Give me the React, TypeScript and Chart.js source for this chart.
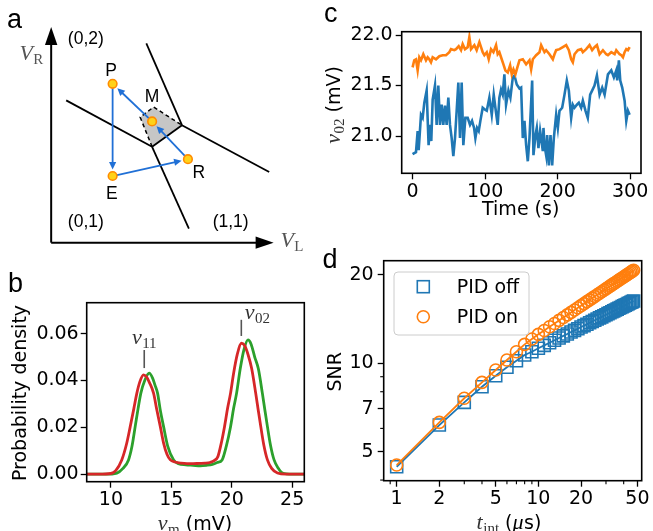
import React, { useEffect, useRef } from 'react';
import { Chart, registerables } from 'chart.js';

Chart.register(...registerables);

const SANS = '"DejaVu Sans", "Noto Sans", sans-serif';
const SERIF = '"Liberation Serif", "DejaVu Serif", serif';
const HELV = '"Liberation Sans", Arial, sans-serif';

// ---------------- panel a : charge-stability diagram (units of V_L, V_R) ----------------
const stateNames = ['P', 'M', 'R', 'E'];
const stateVL = [3.19, 5.24, 7.1, 3.19];
const stateVR = [8.32, 6.35, 4.37, 3.49];
const arrowFrom = ['P', 'E', 'R', 'M'];
const arrowTo = ['E', 'R', 'M', 'P'];
const boundaryVL = [
  [0.78, 5.24],
  [5.24, 7.15],
  [4.94, 6.79],
  [6.79, 11.32],
  [5.24, 6.79],
];
const boundaryVR = [
  [7.45, 5.02],
  [5.02, 0.73],
  [10.44, 6.15],
  [6.15, 3.7],
  [5.02, 6.15],
];
const cellVL = [5.24, 4.62, 5.32, 6.79];
const cellVR = [5.02, 6.57, 7.1, 6.15];
const regionLabels = ['(0,2)', '(0,1)', '(1,1)'];
const regionVL = [1.8, 1.8, 9.32];
const regionVR = [10.4, 0.82, 0.82];
const axisVLmax = 11.55;
const axisVRmax = 11.3;

// ---------------- panel b : histograms ----------------
const redVm = [8.0, 9.0, 10.0, 10.4, 10.9, 11.3, 11.6, 11.9, 12.15, 12.4, 12.7, 12.95, 13.2, 13.53, 13.8, 14.09, 14.35, 14.64, 14.92, 15.3, 15.8, 16.3, 16.8, 17.3, 17.8, 18.2, 18.55, 18.85, 19.1, 19.4, 19.65, 19.9, 20.15, 20.45, 20.79, 21.05, 21.35, 21.65, 21.98, 22.2, 22.4, 22.65, 22.95, 23.3, 23.78, 24.5, 26.0];
const redDensity = [0, 0, 0.0003, 0.0015, 0.0061, 0.013, 0.0203, 0.028, 0.0346, 0.0395, 0.0424, 0.0415, 0.039, 0.0346, 0.0275, 0.0203, 0.0135, 0.0085, 0.0061, 0.0052, 0.0047, 0.0045, 0.0045, 0.0046, 0.0047, 0.005, 0.0058, 0.0075, 0.0125, 0.0203, 0.028, 0.0346, 0.043, 0.051, 0.0559, 0.055, 0.051, 0.045, 0.0346, 0.027, 0.0203, 0.0125, 0.0061, 0.0025, 0.0005, 0, 0];
const greenVm = [8.0, 9.5, 10.5, 11.0, 11.46, 11.75, 12.01, 12.25, 12.48, 12.8, 13.17, 13.45, 13.65, 13.86, 14.1, 14.36, 14.7, 15.19, 15.6, 16.2, 16.8, 17.4, 17.9, 18.4, 18.8, 19.2, 19.55, 19.9, 20.15, 20.4, 20.7, 21.0, 21.34, 21.6, 21.9, 22.2, 22.53, 22.75, 22.95, 23.2, 23.5, 23.85, 24.2, 25.0, 26.0];
const greenDensity = [0, 0, 0.0005, 0.0025, 0.0061, 0.012, 0.0203, 0.028, 0.0346, 0.04, 0.0431, 0.041, 0.038, 0.0346, 0.027, 0.0203, 0.012, 0.0061, 0.0045, 0.004, 0.0038, 0.0036, 0.0038, 0.0042, 0.005, 0.0061, 0.012, 0.0203, 0.028, 0.0346, 0.045, 0.053, 0.0573, 0.0555, 0.05, 0.045, 0.0346, 0.027, 0.0203, 0.0125, 0.0061, 0.0025, 0.0005, 0, 0];
const peakSubscripts = ['11', '02'];
const peakVm = [12.76, 20.79];
const peakMarkLow = [0.0453, 0.059];
const peakMarkHigh = [0.053, 0.0659];
const bTicksX = [10, 15, 20, 25];
const bTicksY = [0, 0.02, 0.04, 0.06];

// ---------------- panel c : v02 vs time ----------------
const offTime = [0, 4.7, 7.0, 8.4, 11.6, 13.9, 16.2, 19.4, 22.1, 24.0, 25.8, 27.7, 30.9, 33.2, 35.5, 37.8, 40.1, 42.4, 44.7, 47.0, 49.3, 51.6, 53.9, 56.2, 58.5, 60.8, 63.1, 65.4, 67.7, 70.0, 72.8, 76.0, 79.2, 82.0, 84.8, 86.6, 88.9, 91.2, 93.5, 96.7, 100.0, 102.3, 105.9, 109.2, 111.9, 114.2, 117.4, 119.7, 122.0, 124.3, 126.6, 128.9, 132.2, 134.9, 138.2, 140.5, 143.7, 147.4, 149.7, 152.0, 154.3, 156.6, 158.9, 161.2, 164.9, 166.7, 169.5, 171.3, 173.6, 175.9, 177.3, 179.6, 180.5, 181.9, 184.2, 185.6, 187.9, 190.2, 192.5, 194.8, 198.0, 200.3, 202.6, 206.3, 209.5, 212.7, 215.5, 218.7, 221.0, 223.3, 226.6, 229.3, 232.5, 234.8, 238.5, 241.6, 244.9, 247.6, 250.9, 254.2, 257.9, 261.5, 264.8, 269.4, 274.0, 277.6, 280.9, 282.2, 284.5, 286.4, 289.1, 292.4, 294.7, 297.0, 299.3];
const offV02 = [20.82, 20.84, 21.05, 20.86, 21.21, 21.18, 21.33, 21.45, 20.91, 21.11, 20.95, 21.36, 21.5, 21.11, 21.5, 21.11, 21.31, 21.11, 21.3, 21.11, 21.38, 21.11, 20.98, 20.8, 20.98, 21.25, 21.53, 20.98, 21.53, 20.91, 21.18, 21.18, 21.11, 21.15, 21.08, 20.98, 21.08, 21.05, 21.15, 21.28, 21.26, 21.25, 21.38, 21.21, 21.41, 21.28, 21.11, 21.38, 21.46, 21.41, 21.61, 21.31, 21.45, 21.38, 21.58, 21.6, 21.51, 21.47, 21.48, 20.98, 21.15, 20.91, 20.75, 20.98, 21.55, 20.81, 21.01, 21.08, 20.88, 21.05, 20.98, 20.85, 21.08, 20.91, 20.81, 21.01, 20.71, 21.01, 20.71, 20.98, 21.21, 21.08, 21.25, 21.28, 21.41, 21.55, 21.45, 21.18, 21.31, 21.28, 21.31, 21.33, 21.28, 21.35, 21.25, 21.18, 21.41, 21.45, 21.5, 21.6, 21.41, 21.48, 21.41, 21.61, 21.65, 21.58, 21.65, 21.55, 21.75, 21.55, 21.48, 21.35, 21.15, 21.25, 21.21];
const onTime = [0, 2.3, 4.7, 7.0, 9.3, 11.6, 14.8, 18.5, 20.8, 23.1, 25.4, 27.7, 32.3, 36.9, 41.5, 46.1, 50.7, 53.0, 57.6, 59.9, 63.6, 66.8, 69.1, 72.3, 76.0, 78.3, 80.6, 85.2, 88.4, 92.1, 94.4, 96.7, 99.0, 102.3, 105.0, 108.2, 111.5, 115.1, 117.4, 119.7, 122.0, 125.3, 128.0, 131.3, 134.5, 136.8, 139.1, 141.8, 144.5, 147.4, 152.0, 156.6, 161.2, 163.5, 165.8, 170.4, 175.0, 177.3, 181.9, 184.2, 188.8, 193.4, 195.7, 198.0, 202.6, 207.2, 211.8, 215.5, 218.7, 221.0, 223.3, 227.9, 232.5, 234.8, 239.4, 244.0, 247.6, 250.9, 254.2, 257.9, 262.5, 267.1, 269.4, 274.0, 278.6, 280.9, 285.5, 287.8, 290.1, 292.4, 294.7, 297.0, 299.3];
const onV02 = [21.68, 21.75, 21.76, 21.65, 21.78, 21.75, 21.81, 21.75, 21.78, 21.76, 21.73, 21.78, 21.76, 21.79, 21.8, 21.8, 21.83, 21.86, 21.85, 21.86, 21.89, 21.85, 21.91, 21.86, 21.88, 21.98, 21.86, 21.9, 21.85, 21.93, 21.88, 21.83, 21.8, 21.83, 21.76, 21.86, 21.83, 21.9, 21.81, 21.83, 21.78, 21.71, 21.65, 21.63, 21.7, 21.61, 21.66, 21.61, 21.68, 21.75, 21.76, 21.71, 21.75, 21.66, 21.76, 21.8, 21.83, 21.9, 21.83, 21.85, 21.81, 21.76, 21.81, 21.85, 21.86, 21.88, 21.9, 21.85, 21.76, 21.73, 21.81, 21.85, 21.86, 21.83, 21.86, 21.9, 21.85, 21.88, 21.9, 21.81, 21.85, 21.81, 21.8, 21.83, 21.81, 21.85, 21.81, 21.8, 21.78, 21.83, 21.86, 21.85, 21.88];
const cTicksX = [0, 100, 200, 300];
const cTicksY = [21.0, 21.5, 22.0];

// ---------------- panel d : SNR vs integration time ----------------
const tIntUs = [1, 2, 3, 4, 5, 6, 7, 8, 9, 10, 11, 12, 13, 14, 15, 16, 17, 18, 19, 20, 21, 22, 23, 24, 25, 26, 27, 28, 29, 30, 31, 32, 33, 34, 35, 36, 37, 38, 39, 40, 41, 42, 43, 44, 45, 46, 47];
const snrPidOff = [4.44, 6.16, 7.36, 8.32, 9.07, 9.69, 10.2, 10.67, 10.95, 11.25, 11.51, 11.75, 11.98, 12.2, 12.4, 12.59, 12.78, 12.95, 13.12, 13.29, 13.44, 13.59, 13.74, 13.88, 14.02, 14.15, 14.28, 14.4, 14.52, 14.64, 14.76, 14.87, 14.98, 15.09, 15.2, 15.3, 15.4, 15.5, 15.6, 15.69, 15.78, 15.87, 15.97, 16.05, 16.14, 16.23, 16.31];
const snrPidOn = [4.5, 6.29, 7.6, 8.61, 9.49, 10.26, 10.95, 11.6, 12.1, 12.55, 12.94, 13.32, 13.67, 14.0, 14.32, 14.62, 14.91, 15.19, 15.46, 15.72, 15.97, 16.22, 16.45, 16.68, 16.9, 17.12, 17.33, 17.54, 17.74, 17.93, 18.13, 18.32, 18.5, 18.68, 18.86, 19.03, 19.2, 19.37, 19.53, 19.69, 19.85, 20.01, 20.16, 20.31, 20.46, 20.61, 20.75];
const dTicksX = [1, 2, 5, 10, 20, 50];
const dMinorX = [0.9, 3, 4, 6, 7, 8, 9, 30, 40];
const dTicksY = [5, 7, 10, 20];
const dMinorY = [4, 6, 8, 9];
const legendLabels = ['PID off', 'PID on'];

// ---------------- helpers ----------------
type Run = { t: string; font: string; dy?: number; dx?: number; color?: string };

function richWidth(ctx: CanvasRenderingContext2D, runs: Run[]) {
  let w = 0;
  for (const r of runs) {
    ctx.font = r.font;
    w += ctx.measureText(r.t).width + (r.dx || 0);
  }
  return w;
}

function drawRich(ctx: CanvasRenderingContext2D, x: number, y: number, runs: Run[], align = 'left') {
  const w = richWidth(ctx, runs);
  let cx = align === 'center' ? x - w / 2 : align === 'right' ? x - w : x;
  ctx.textAlign = 'left';
  ctx.textBaseline = 'alphabetic';
  for (const r of runs) {
    ctx.font = r.font;
    ctx.fillStyle = r.color || '#000';
    ctx.fillText(r.t, cx, y + (r.dy || 0));
    cx += ctx.measureText(r.t).width + (r.dx || 0);
  }
}

const MATH = (t: string, color = '#333'): Run => ({ t, font: `italic 22px ${SERIF}`, color, dx: 0.5 });
const SUB = (t: string, color = '#333'): Run => ({ t, font: `15px ${SERIF}`, dy: 4, color });
const TXT = (t: string): Run => ({ t, font: `19px ${SANS}`, color: '#000' });

function panelLetter(ctx: CanvasRenderingContext2D, letter: string, x: number, y: number) {
  ctx.save();
  ctx.font = `27px ${HELV}`;
  ctx.fillStyle = '#000';
  ctx.textAlign = 'left';
  ctx.textBaseline = 'alphabetic';
  ctx.fillText(letter, x, y);
  ctx.restore();
}

function frameBox(chart: any) {
  const { ctx, chartArea: a } = chart;
  ctx.save();
  ctx.strokeStyle = '#000';
  ctx.lineWidth = 1.6;
  ctx.strokeRect(a.left, a.top, a.right - a.left, a.bottom - a.top);
  ctx.restore();
}

function makeScale(o: any) {
  return {
    type: o.type || 'linear',
    min: o.min,
    max: o.max,
    afterBuildTicks: (s: any) => {
      s.ticks = o.ticks.map((value: number) => ({ value }));
    },
    afterFit: (s: any) => {
      if (o.horizontal) s.height = o.fit;
      else s.width = o.fit;
    },
    ticks: {
      autoSkip: false,
      maxRotation: 0,
      minRotation: 0,
      padding: o.padding ?? 1,
      color: '#000',
      font: { family: SANS, size: 19 },
      callback: (v: any) => o.fmt(Number(v)),
    },
    grid: {
      display: true,
      drawOnChartArea: false,
      drawTicks: true,
      tickLength: o.tickLength ?? 6,
      tickWidth: 1.3,
      tickColor: '#000',
      color: '#000',
    },
    border: { display: false },
  };
}

const baseOptions = {
  animation: false as const,
  responsive: false,
  maintainAspectRatio: false,
  events: [] as any[],
};

function drawArrow(ctx: CanvasRenderingContext2D, x0: number, y0: number, x1: number, y1: number, endGap: number, color: string) {
  const dx = x1 - x0;
  const dy = y1 - y0;
  const len = Math.hypot(dx, dy);
  const ux = dx / len;
  const uy = dy / len;
  const tx = x1 - ux * endGap;
  const ty = y1 - uy * endGap;
  const headL = 7.5;
  const headW = 3.6;
  const bx = tx - ux * headL;
  const by = ty - uy * headL;
  ctx.save();
  ctx.strokeStyle = color;
  ctx.fillStyle = color;
  ctx.lineWidth = 1.8;
  ctx.beginPath();
  ctx.moveTo(x0, y0);
  ctx.lineTo(bx + ux * 1, by + uy * 1);
  ctx.stroke();
  ctx.beginPath();
  ctx.moveTo(tx, ty);
  ctx.lineTo(bx - uy * headW, by + ux * headW);
  ctx.lineTo(bx + uy * headW, by - ux * headW);
  ctx.closePath();
  ctx.fill();
  ctx.restore();
}

// ---------------- chart configs ----------------
function configA(): any {
  const boundarySets = boundaryVL.map((xs, i) => ({
    data: xs.map((x, j) => ({ x, y: boundaryVR[i][j] })),
    showLine: true,
    borderColor: '#000',
    borderWidth: 1.8,
    pointRadius: 0,
  }));
  const plugin = {
    id: 'diagramA',
    beforeDatasetsDraw(chart: any) {
      const { ctx, scales } = chart;
      ctx.save();
      ctx.beginPath();
      cellVL.forEach((v, i) => {
        const px = scales.x.getPixelForValue(v);
        const py = scales.y.getPixelForValue(cellVR[i]);
        if (i === 0) ctx.moveTo(px, py);
        else ctx.lineTo(px, py);
      });
      ctx.closePath();
      ctx.fillStyle = '#c6c6c6';
      ctx.fill();
      ctx.restore();
    },
    afterDatasetDraw(chart: any, args: any) {
      if (args.index !== 1) return;
      const { ctx, scales } = chart;
      const pos = (name: string) => {
        const k = stateNames.indexOf(name);
        return [scales.x.getPixelForValue(stateVL[k]), scales.y.getPixelForValue(stateVR[k])];
      };
      arrowFrom.forEach((f, i) => {
        const [x0, y0] = pos(f);
        const [x1, y1] = pos(arrowTo[i]);
        drawArrow(ctx, x0, y0, x1, y1, 6.5, '#2070d6');
      });
    },
    afterDraw(chart: any) {
      const { ctx, scales } = chart;
      const X = (v: number) => scales.x.getPixelForValue(v);
      const Y = (v: number) => scales.y.getPixelForValue(v);
      // axis arrowheads
      ctx.save();
      ctx.fillStyle = '#000';
      const ox = X(0);
      const oy = Y(0);
      const vt = Y(axisVRmax);
      ctx.beginPath();
      ctx.moveTo(ox, vt);
      ctx.lineTo(ox - 6.2, vt + 18);
      ctx.lineTo(ox + 6.2, vt + 18);
      ctx.closePath();
      ctx.fill();
      const ht = X(axisVLmax);
      ctx.beginPath();
      ctx.moveTo(ht, oy);
      ctx.lineTo(ht - 18, oy - 6.2);
      ctx.lineTo(ht - 18, oy + 6.2);
      ctx.closePath();
      ctx.fill();
      ctx.restore();
      // region labels
      ctx.save();
      ctx.font = `17.5px ${HELV}`;
      ctx.fillStyle = '#000';
      ctx.textAlign = 'center';
      ctx.textBaseline = 'alphabetic';
      regionLabels.forEach((t, i) => ctx.fillText(t, X(regionVL[i]), Y(regionVR[i])));
      const offs: Record<string, number[]> = { P: [-1.5, -7.7], M: [0, -19.3], R: [11, 18.6], E: [-0.7, 23.4] };
      stateNames.forEach((n, i) => {
        const o = offs[n];
        ctx.fillText(n, X(stateVL[i]) + o[0], Y(stateVR[i]) + o[1]);
      });
      ctx.restore();
      // axis names
      drawRich(ctx, X(-1.65), Y(9.55), [MATH('V', '#555'), SUB('R', '#555')]);
      drawRich(ctx, X(11.9), Y(-0.25), [MATH('V', '#555'), SUB('L', '#555')]);
      panelLetter(ctx, 'a', 7, 28);
    },
  };
  return {
    type: 'scatter',
    data: {
      datasets: [
        {
          data: stateVL.map((x, i) => ({ x, y: stateVR[i] })),
          pointRadius: 4.3,
          pointBorderWidth: 1.6,
          pointBackgroundColor: '#ffd21a',
          pointBorderColor: '#ff8c00',
          showLine: false,
        },
        {
          data: cellVL.map((x, i) => ({ x, y: cellVR[i] })),
          showLine: true,
          borderColor: '#000',
          borderWidth: 1.5,
          borderDash: [4, 3],
          pointRadius: 0,
        },
        ...boundarySets,
        {
          data: [
            { x: 0, y: 0 },
            { x: axisVLmax - 0.5, y: 0 },
          ],
          showLine: true,
          borderColor: '#000',
          borderWidth: 2,
          pointRadius: 0,
        },
        {
          data: [
            { x: 0, y: 0 },
            { x: 0, y: axisVRmax - 0.5 },
          ],
          showLine: true,
          borderColor: '#000',
          borderWidth: 2,
          pointRadius: 0,
        },
      ],
    },
    options: {
      ...baseOptions,
      layout: { padding: 0 },
      plugins: { legend: { display: false }, tooltip: { enabled: false } },
      scales: {
        x: { type: 'linear', min: -2.35, max: 13.65, display: false },
        y: { type: 'linear', min: -0.6, max: 12.4, display: false },
      },
    },
    plugins: [plugin],
  };
}

function configB(): any {
  const plugin = {
    id: 'histB',
    afterDraw(chart: any) {
      const { ctx, scales } = chart;
      frameBox(chart);
      const X = (v: number) => scales.x.getPixelForValue(v);
      const Y = (v: number) => scales.y.getPixelForValue(v);
      ctx.save();
      ctx.strokeStyle = '#555';
      ctx.lineWidth = 1.6;
      peakVm.forEach((v, i) => {
        ctx.beginPath();
        ctx.moveTo(X(v), Y(peakMarkLow[i]));
        ctx.lineTo(X(v), Y(peakMarkHigh[i]));
        ctx.stroke();
      });
      ctx.restore();
      drawRich(ctx, X(peakVm[0]), Y(peakMarkHigh[0]) - 6.5, [MATH('v'), SUB(peakSubscripts[0])], 'center');
      drawRich(ctx, X(peakVm[1]) + 3.5, Y(peakMarkHigh[1]) - 1, [MATH('v'), SUB(peakSubscripts[1])], 'left');
      // axis titles
      drawRich(ctx, 195, 267.5, [MATH('v'), SUB('m'), TXT(' (mV)')], 'center');
      ctx.save();
      ctx.translate(25.7, 131);
      ctx.rotate(-Math.PI / 2);
      drawRich(ctx, 0, 0, [TXT('Probability density')], 'center');
      ctx.restore();
      panelLetter(ctx, 'b', 8, 29.7);
    },
  };
  return {
    type: 'scatter',
    data: {
      datasets: [
        {
          data: redVm.map((x, i) => ({ x, y: redDensity[i] })),
          showLine: true,
          borderColor: '#d62728',
          borderWidth: 2.8,
          pointRadius: 0,
          cubicInterpolationMode: 'monotone',
        },
        {
          data: greenVm.map((x, i) => ({ x, y: greenDensity[i] })),
          showLine: true,
          borderColor: '#2ca02c',
          borderWidth: 2.8,
          pointRadius: 0,
          cubicInterpolationMode: 'monotone',
        },
      ],
    },
    options: {
      ...baseOptions,
      layout: { padding: { top: 40.7, right: 15.7, left: 0, bottom: 0 } },
      plugins: { legend: { display: false }, tooltip: { enabled: false } },
      scales: {
        x: makeScale({ min: 8, max: 26, ticks: bTicksX, fmt: (v: number) => String(v), fit: 49.3, horizontal: true }),
        y: makeScale({ min: -0.0032, max: 0.0732, ticks: bTicksY, fmt: (v: number) => v.toFixed(2), fit: 86.7, horizontal: false, padding: 2 }),
      },
    },
    plugins: [plugin],
  };
}

function configC(): any {
  const plugin = {
    id: 'traceC',
    afterDraw(chart: any) {
      const { ctx } = chart;
      frameBox(chart);
      drawRich(ctx, 200.7, 215, [TXT('Time (s)')], 'center');
      ctx.save();
      ctx.translate(19.9, 105);
      ctx.rotate(-Math.PI / 2);
      drawRich(ctx, 0, 0, [MATH('v'), SUB('02'), TXT(' (mV)')], 'center');
      ctx.restore();
      panelLetter(ctx, 'c', 4, 21.7);
    },
  };
  return {
    type: 'scatter',
    data: {
      datasets: [
        {
          data: onTime.map((x, i) => ({ x, y: onV02[i] })),
          showLine: true,
          borderColor: '#ff7f0e',
          borderWidth: 2.6,
          pointRadius: 0,
        },
        {
          data: offTime.map((x, i) => ({ x, y: offV02[i] })),
          showLine: true,
          borderColor: '#1f77b4',
          borderWidth: 2.6,
          pointRadius: 0,
        },
      ],
    },
    options: {
      ...baseOptions,
      layout: { padding: { top: 31.7, right: 12, left: 0, bottom: 0 } },
      plugins: { legend: { display: false }, tooltip: { enabled: false } },
      scales: {
        x: makeScale({ min: -15, max: 315, ticks: cTicksX, fmt: (v: number) => String(v), fit: 58.7, horizontal: true }),
        y: makeScale({ min: 20.631, max: 22.033, ticks: cTicksY, fmt: (v: number) => v.toFixed(1), fit: 81.7, horizontal: false, padding: 3 }),
      },
    },
    plugins: [plugin],
  };
}

function configD(): any {
  const blue = '#1f77b4';
  const orange = '#ff7f0e';
  const plugin = {
    id: 'snrD',
    afterDraw(chart: any) {
      const { ctx, scales, chartArea: a } = chart;
      frameBox(chart);
      // minor ticks
      ctx.save();
      ctx.strokeStyle = '#000';
      ctx.lineWidth = 1.1;
      dMinorX.forEach((v) => {
        const px = scales.x.getPixelForValue(v);
        ctx.beginPath();
        ctx.moveTo(px, a.bottom);
        ctx.lineTo(px, a.bottom + 3.5);
        ctx.stroke();
      });
      dMinorY.forEach((v) => {
        const py = scales.y.getPixelForValue(v);
        ctx.beginPath();
        ctx.moveTo(a.left, py);
        ctx.lineTo(a.left - 3.5, py);
        ctx.stroke();
      });
      ctx.restore();
      // legend
      const lx = a.left + 10.3;
      const ly = a.top + 11.3;
      const lw = 135;
      const lh = 63;
      ctx.save();
      ctx.beginPath();
      ctx.roundRect(lx, ly, lw, lh, 4);
      ctx.fillStyle = 'rgba(255,255,255,0.85)';
      ctx.fill();
      ctx.strokeStyle = '#cccccc';
      ctx.lineWidth = 1;
      ctx.stroke();
      const mx = lx + 29.3;
      const rows = [ly + 14.7, ly + 44.7];
      ctx.lineWidth = 1.6;
      ctx.strokeStyle = blue;
      ctx.strokeRect(mx - 6, rows[0] - 6, 12, 12);
      ctx.strokeStyle = orange;
      ctx.beginPath();
      ctx.arc(mx, rows[1], 6, 0, Math.PI * 2);
      ctx.stroke();
      ctx.font = `19px ${SANS}`;
      ctx.fillStyle = '#000';
      ctx.textAlign = 'left';
      ctx.textBaseline = 'middle';
      legendLabels.forEach((t, i) => ctx.fillText(t, lx + 62.7, rows[i] + 1));
      ctx.restore();
      // axis titles
      drawRich(
        ctx,
        189,
        296.5,
        [MATH('t'), SUB('int'), TXT(' ('), MATH('μ', '#000'), TXT('s)')],
        'center'
      );
      ctx.save();
      ctx.translate(20.7, 139.7);
      ctx.rotate(-Math.PI / 2);
      drawRich(ctx, 0, 0, [TXT('SNR')], 'center');
      ctx.restore();
      panelLetter(ctx, 'd', 2.5, 36.3);
    },
  };
  return {
    type: 'scatter',
    data: {
      datasets: [
        {
          label: legendLabels[0],
          data: tIntUs.map((x, i) => ({ x, y: snrPidOff[i] })),
          showLine: true,
          borderColor: blue,
          borderWidth: 1.8,
          pointStyle: 'rect',
          pointRadius: 8.5,
          pointBorderWidth: 1.6,
          pointBorderColor: blue,
          pointBackgroundColor: 'rgba(0,0,0,0)',
          order: 2,
        },
        {
          label: legendLabels[1],
          data: tIntUs.map((x, i) => ({ x, y: snrPidOn[i] })),
          showLine: true,
          borderColor: orange,
          borderWidth: 1.8,
          pointStyle: 'circle',
          pointRadius: 6,
          pointBorderWidth: 1.6,
          pointBorderColor: orange,
          pointBackgroundColor: 'rgba(0,0,0,0)',
          order: 1,
        },
      ],
    },
    options: {
      ...baseOptions,
      layout: { padding: { top: 28.7, right: 11.3, left: 0, bottom: 0 } },
      plugins: { legend: { display: false }, tooltip: { enabled: false } },
      scales: {
        x: makeScale({ type: 'logarithmic', min: 0.81, max: 53.6, ticks: dTicksX, fmt: (v: number) => String(v), fit: 50.3, horizontal: true }),
        y: makeScale({ type: 'logarithmic', min: 3.98, max: 22.37, ticks: dTicksY, fmt: (v: number) => String(v), fit: 63.7, horizontal: false, padding: 4, tickLength: 6 }),
      },
    },
    plugins: [plugin],
  };
}

function ChartPanel(props: { left: number; top: number; width: number; height: number; make: () => any }) {
  const ref = useRef<HTMLCanvasElement | null>(null);
  useEffect(() => {
    const chart = new Chart(ref.current as HTMLCanvasElement, props.make());
    return () => chart.destroy();
  }, []);
  return (
    <canvas
      ref={ref}
      width={props.width}
      height={props.height}
      style={{ position: 'absolute', left: props.left, top: props.top, width: props.width, height: props.height }}
    />
  );
}

export default function App() {
  if (typeof document !== 'undefined') {
    document.body.style.margin = '0';
    document.body.style.background = '#fff';
  }
  return (
    <div style={{ position: 'relative', width: 653, height: 531, overflow: 'hidden', background: '#fff' }}>
      <ChartPanel left={0} top={0} width={320} height={260} make={configA} />
      <ChartPanel left={0} top={262} width={320} height={269} make={configB} />
      <ChartPanel left={320} top={0} width={333} height={232} make={configC} />
      <ChartPanel left={320} top={232} width={333} height={299} make={configD} />
    </div>
  );
}
